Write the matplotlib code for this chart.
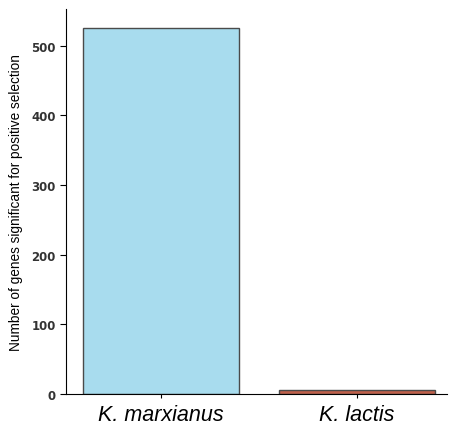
import matplotlib
matplotlib.use("Agg")
import matplotlib.pyplot as plt

species = ["K. marxianus", "K. lactis"]
counts = [526, 5]
colors = ["#a8dcee", "#c0604a"]

fig = plt.figure(figsize=(4.5, 4.27), dpi=100)
ax = fig.add_axes([0.147, 0.075, 0.846, 0.902])
x = list(range(len(species)))
ax.bar(x, counts, width=0.8, color=colors, edgecolor="#4a4a4a", linewidth=1.0)
ax.set_xticks(x)
ax.set_xticklabels(species, fontsize=15.5, style="italic", family="Liberation Sans")
ax.set_xlim(-0.485, 1.46)
ax.set_ylim(0, 553)
ax.set_yticks([0, 100, 200, 300, 400, 500])
ax.tick_params(axis="y", labelsize=8.5, length=4)
ax.tick_params(axis="x", length=3, pad=4)
for lab in ax.get_yticklabels():
    lab.set_fontweight("bold")
    lab.set_color("#333333")
ax.set_ylabel("Number of genes significant for positive selection", fontsize=9.8,
              family="Liberation Sans", labelpad=6)
ax.spines["top"].set_visible(False)
ax.spines["right"].set_visible(False)
fig.savefig("out.png", dpi=100)
